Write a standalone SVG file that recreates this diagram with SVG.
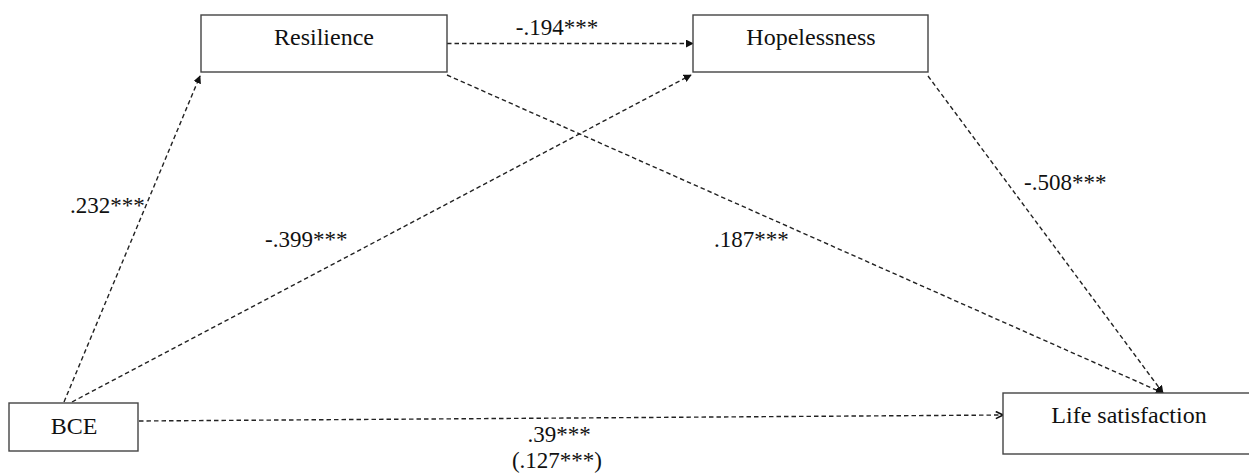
<svg xmlns="http://www.w3.org/2000/svg" width="1249" height="473" viewBox="0 0 1249 473">
<defs>
<style>
.box{fill:#fff;stroke:#444;stroke-width:1.4}
.nt{font-family:"Liberation Serif","Times New Roman",serif;font-size:24px;fill:#111;text-anchor:middle}
.lb{font-family:"Liberation Serif","Times New Roman",serif;font-size:23px;fill:#111}
.c{fill:none;stroke:#222;stroke-width:1.4;stroke-dasharray:4.5 3}
</style>
<marker id="tri" viewBox="0 0 10 10" refX="9" refY="5" markerWidth="8" markerHeight="8" markerUnits="userSpaceOnUse" orient="auto"><path d="M0,0 L10,5 L0,10 Z" fill="#111"/></marker>
<marker id="chev" viewBox="0 0 10 10" refX="9" refY="5" markerWidth="9" markerHeight="9" markerUnits="userSpaceOnUse" orient="auto"><path d="M1,1 L9,5 L1,9" fill="none" stroke="#111" stroke-width="1.8"/></marker>
</defs>
<rect width="1249" height="473" fill="#fff"/>
<g id="connectors">
<line class="c" x1="64" y1="402" x2="200" y2="76" marker-end="url(#tri)"/>
<line class="c" x1="72" y1="402" x2="691" y2="75" marker-end="url(#tri)"/>
<line class="c" x1="447" y1="43.5" x2="693" y2="43.5" marker-end="url(#tri)"/>
<line class="c" x1="447" y1="75" x2="1163" y2="393" marker-end="url(#tri)"/>
<line class="c" x1="928" y1="76" x2="1163" y2="393" marker-end="url(#tri)"/>
<line class="c" x1="139" y1="421" x2="1003" y2="415" marker-end="url(#chev)"/>
<text class="lb" x="557" y="35" text-anchor="middle">-.194***</text>
<text class="lb" x="70" y="213">.232***</text>
<text class="lb" x="265" y="247">-.399***</text>
<text class="lb" x="714" y="247">.187***</text>
<text class="lb" x="1024" y="190">-.508***</text>
<text class="lb" x="559" y="442" text-anchor="middle">.39***</text>
<text class="lb" x="557" y="468" text-anchor="middle">(.127***)</text>
</g>
<g id="resilience"><rect class="box" x="201" y="15" width="246" height="57"/><text class="nt" x="324" y="45">Resilience</text></g>
<g id="hopelessness"><rect class="box" x="693" y="15" width="235" height="57"/><text class="nt" x="811" y="45">Hopelessness</text></g>
<g id="bce"><rect class="box" x="9" y="403" width="129" height="48"/><text class="nt" x="74" y="434">BCE</text></g>
<g id="life"><rect class="box" x="1003" y="393" width="260" height="61"/><text class="nt" x="1129" y="423">Life satisfaction</text></g>
</svg>
